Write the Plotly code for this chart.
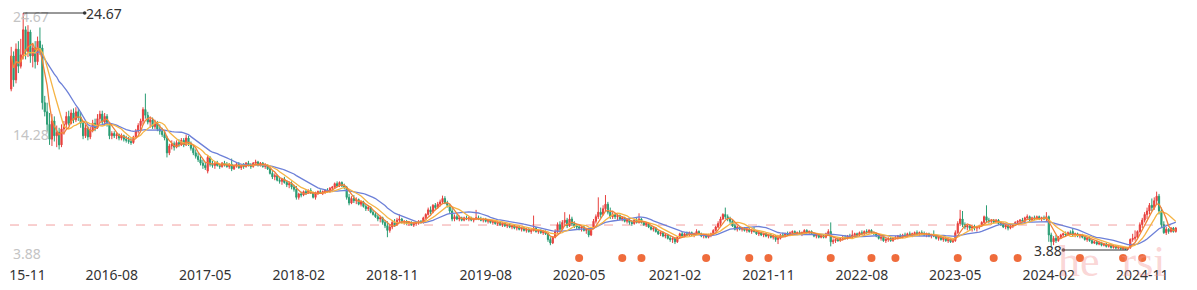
import numpy as np
import pandas as pd
import plotly.graph_objects as go

# ---------------- data (weekly candles) ----------------
start_week = "2015-10-16"

opens = [
    18.0, 20.9, 18.8, 21.5, 20.0, 21.0, 23.2, 21.3, 23.0, 20.9,
    21.6, 20.4, 22.2, 21.6, 16.8, 16.0, 14.9, 13.6, 15.2, 13.9,
    14.2, 13.1, 14.5, 14.9, 15.6, 15.0, 15.9, 15.3, 16.0, 15.5,
    15.0, 13.9, 14.6, 13.8, 14.4, 15.0, 14.6, 15.4, 15.8, 15.1,
    15.6, 14.9, 13.9, 14.1, 13.9, 14.0, 13.7, 13.9, 13.6, 13.5,
    13.4, 13.3, 13.8, 14.3, 14.8, 15.2, 16.2, 15.7, 15.1, 15.3,
    14.7, 15.0, 14.5, 14.3, 14.0, 13.7, 12.4, 13.0, 13.2, 12.9,
    13.3, 13.1, 13.5, 13.1, 13.7, 13.2, 12.8, 12.4, 12.1, 11.8,
    11.5, 11.3, 10.8, 12.0, 11.4, 11.3, 11.5, 11.3, 11.2, 11.5,
    11.4, 11.2, 11.4, 11.0, 11.3, 11.4, 11.1, 11.3, 11.2, 11.5,
    11.3, 11.2, 11.5, 11.6, 11.3, 11.5, 11.2, 11.3, 11.0, 10.6,
    10.3, 10.4, 10.0, 9.9, 10.1, 9.8, 9.6, 9.7, 9.4, 9.2,
    8.5, 8.8, 8.7, 9.0, 8.9, 9.1, 8.9, 8.5, 8.9, 9.0,
    8.9, 9.0, 9.1, 9.0, 9.3, 9.4, 9.7, 9.5, 9.8, 9.5,
    9.4, 8.5, 8.0, 8.4, 8.2, 8.3, 7.9, 8.1, 7.7, 7.5,
    7.6, 7.2, 7.0, 6.8, 6.6, 6.7, 6.3, 6.0, 5.6, 5.9,
    6.3, 6.1, 6.5, 6.6, 6.3, 6.4, 6.2, 6.3, 6.1, 6.2,
    6.3, 6.4, 6.3, 6.7, 7.0, 7.4, 7.2, 7.8, 7.6, 7.9,
    8.1, 8.4, 8.0, 7.8, 7.3, 6.6, 6.8, 6.6, 6.7, 6.5,
    6.7, 6.6, 6.7, 6.5, 6.6, 6.7, 6.6, 6.5, 6.6, 6.4,
    6.5, 6.3, 6.4, 6.2, 6.3, 6.1, 6.2, 6.0, 6.1, 5.9,
    6.0, 5.8, 5.9, 5.7, 5.8, 5.6, 5.7, 5.5, 5.6, 5.8,
    5.5, 5.6, 5.4, 5.5, 5.3, 4.8, 4.5, 5.0, 5.5, 6.1,
    5.7, 6.3, 6.5, 6.0, 6.6, 6.2, 6.0, 5.9, 5.8, 5.9,
    5.6, 5.7, 5.2, 5.8, 6.4, 6.8, 7.2, 7.0, 7.5, 7.9,
    7.2, 6.8, 7.0, 6.8, 6.9, 6.6, 6.7, 6.4, 6.5, 6.3,
    6.2, 6.5, 6.3, 6.6, 6.3, 6.1, 6.2, 5.9, 5.7, 5.8,
    5.5, 5.3, 5.4, 5.1, 5.2, 4.9, 4.8, 4.9, 4.6, 5.0,
    5.3, 5.1, 5.3, 5.2, 5.4, 5.2, 5.3, 5.5, 5.3, 5.1,
    5.2, 5.0, 5.2, 5.3, 5.6, 5.9, 6.2, 6.6, 7.0, 6.8,
    6.6, 6.4, 6.0, 5.7, 5.9, 5.7, 5.8, 5.6, 5.7, 5.5,
    5.6, 5.5, 5.3, 5.4, 5.2, 5.3, 5.1, 5.2, 5.0, 5.1,
    4.8, 4.9, 5.2, 5.1, 5.3, 5.2, 5.4, 5.5, 5.3, 5.4,
    5.3, 5.4, 5.6, 5.4, 5.5, 5.3, 5.1, 5.2, 5.0, 5.1,
    5.0, 5.3, 5.5, 4.6, 4.7, 4.8, 4.7, 4.9, 5.0, 4.9,
    5.1, 5.0, 5.2, 5.3, 5.2, 5.4, 5.3, 5.5, 5.4, 5.6,
    5.4, 5.3, 5.1, 4.9, 5.0, 4.7, 4.8, 4.9, 4.7, 4.9,
    5.0, 5.1, 5.0, 5.2, 5.1, 5.3, 5.2, 5.3, 5.4, 5.3,
    5.4, 5.3, 5.2, 5.3, 5.1, 5.2, 5.1, 4.9, 5.0, 4.8,
    4.9, 4.7, 4.8, 4.6, 4.7, 5.4, 6.2, 6.6, 6.1, 5.9,
    6.0, 5.8, 5.9, 5.8, 5.9, 6.0, 6.3, 6.8, 6.5, 6.4,
    6.5, 6.3, 6.5, 6.2, 6.1, 5.9, 6.0, 5.8, 6.0, 6.1,
    6.3, 6.4, 6.5, 6.4, 6.7, 6.8, 6.5, 6.7, 6.6, 6.8,
    6.6, 6.7, 6.6, 6.8, 5.2, 4.6, 4.9, 4.7, 5.0, 5.2,
    5.3, 5.2, 5.4, 5.5, 5.2, 5.3, 5.1, 5.2, 5.0, 4.8,
    4.9, 4.7, 4.5, 4.6, 4.4, 4.5, 4.3, 4.4, 4.2, 4.3,
    4.1, 4.2, 4.05, 4.1, 4.0, 4.05, 3.95, 4.05, 4.8, 4.9,
    5.0, 5.5, 6.1, 6.5, 7.0, 7.3, 7.8, 7.6, 8.2, 8.6,
    7.3, 6.1, 5.4, 5.7, 5.5, 5.8, 5.5,
]

highs = [
    21.7, 21.3, 22.0, 22.2, 22.4, 24.67, 23.5, 23.6, 23.2, 22.0,
    22.2, 22.6, 23.4, 21.9, 17.4, 16.8, 15.9, 15.8, 15.6, 14.8,
    14.6, 14.9, 15.2, 16.0, 16.1, 16.2, 16.3, 16.4, 16.3, 16.0,
    15.2, 14.9, 14.8, 14.7, 15.3, 15.4, 15.8, 16.1, 16.1, 15.9,
    15.8, 15.0, 14.3, 14.3, 14.2, 14.1, 14.1, 14.0, 13.9, 13.8,
    13.7, 13.9, 14.5, 15.0, 15.4, 16.4, 17.6, 16.0, 15.6, 15.5,
    15.3, 15.2, 14.9, 14.6, 14.4, 13.9, 13.2, 13.5, 13.4, 13.5,
    13.6, 13.7, 13.7, 14.0, 13.9, 13.4, 13.0, 12.7, 12.4, 12.1,
    11.8, 11.6, 12.2, 12.1, 11.7, 11.6, 11.7, 11.5, 11.6, 11.7,
    11.6, 11.5, 11.9, 11.4, 11.6, 11.6, 11.4, 11.5, 11.6, 11.7,
    11.5, 11.6, 11.8, 11.7, 11.6, 11.6, 11.5, 11.4, 11.1, 10.8,
    10.6, 10.5, 10.3, 10.2, 10.3, 10.0, 9.9, 9.9, 9.6, 9.5,
    8.9, 9.0, 9.1, 9.2, 9.2, 9.3, 9.0, 9.0, 9.1, 9.2,
    9.1, 9.2, 9.3, 9.4, 9.5, 9.8, 9.9, 9.9, 9.9, 9.7,
    9.5, 8.8, 8.6, 8.7, 8.5, 8.4, 8.2, 8.2, 7.9, 7.8,
    7.7, 7.4, 7.2, 7.0, 6.9, 6.8, 6.5, 6.4, 6.1, 6.5,
    6.6, 6.7, 7.0, 6.7, 6.5, 6.5, 6.4, 6.4, 6.3, 6.4,
    6.5, 6.5, 6.8, 7.1, 7.6, 7.7, 7.9, 8.0, 8.1, 8.3,
    8.65, 8.6, 8.2, 7.9, 7.6, 7.0, 7.0, 6.9, 6.8, 6.8,
    6.9, 6.8, 6.8, 6.7, 7.4, 6.9, 6.8, 6.7, 6.7, 6.6,
    6.6, 6.5, 6.5, 6.4, 6.4, 6.3, 6.3, 6.2, 6.2, 6.1,
    6.1, 6.0, 6.0, 5.9, 5.9, 5.8, 5.8, 5.7, 6.9, 5.9,
    5.7, 5.7, 5.6, 5.6, 5.4, 5.0, 5.1, 5.7, 6.3, 6.4,
    6.5, 7.2, 6.7, 7.0, 6.8, 6.4, 6.2, 6.1, 6.0, 6.0,
    5.8, 5.8, 5.9, 6.6, 7.0, 8.5, 7.6, 7.8, 8.7, 8.1,
    7.6, 7.2, 7.1, 7.0, 7.0, 6.8, 6.8, 6.6, 6.6, 6.5,
    6.6, 6.7, 7.1, 6.7, 6.4, 6.3, 6.3, 6.0, 5.9, 5.9,
    5.6, 5.5, 5.5, 5.3, 5.3, 5.1, 5.0, 5.0, 5.1, 5.4,
    5.5, 5.4, 5.5, 5.5, 5.5, 5.4, 5.7, 5.6, 5.4, 5.3,
    5.3, 5.3, 5.4, 5.7, 6.0, 6.4, 6.8, 7.1, 7.6, 7.0,
    6.8, 6.5, 6.2, 6.0, 6.0, 5.9, 5.9, 5.8, 5.8, 5.7,
    5.9, 5.6, 5.5, 5.5, 5.4, 5.4, 5.3, 5.3, 5.2, 5.2,
    5.1, 5.3, 5.4, 5.4, 5.5, 5.5, 5.6, 5.6, 5.5, 5.6,
    5.5, 5.7, 5.7, 5.6, 5.6, 5.4, 5.3, 5.3, 5.2, 5.2,
    5.4, 5.7, 6.3, 4.9, 4.9, 5.0, 5.0, 5.1, 5.2, 5.2,
    5.3, 5.6, 5.4, 5.4, 5.5, 5.6, 5.6, 5.7, 5.7, 5.7,
    5.5, 5.4, 5.2, 5.1, 5.1, 4.9, 5.0, 5.0, 5.0, 5.1,
    5.2, 5.3, 5.3, 5.4, 5.4, 5.5, 5.4, 5.5, 5.6, 5.5,
    5.6, 5.5, 5.4, 5.4, 5.3, 5.6, 5.2, 5.1, 5.1, 5.0,
    5.0, 4.9, 4.9, 4.8, 5.6, 6.4, 7.4, 7.3, 6.3, 6.1,
    6.1, 6.0, 6.1, 6.0, 6.1, 6.4, 6.9, 7.8, 6.7, 6.6,
    6.6, 6.6, 6.6, 6.4, 6.3, 6.1, 6.1, 6.1, 6.2, 6.4,
    6.5, 6.6, 6.7, 6.8, 7.0, 6.9, 6.8, 6.9, 6.9, 6.9,
    6.8, 6.9, 7.2, 6.9, 5.4, 5.1, 5.2, 5.1, 5.3, 5.4,
    5.5, 5.5, 5.6, 5.8, 5.4, 5.4, 5.3, 5.3, 5.1, 5.0,
    5.0, 4.8, 4.7, 4.7, 4.6, 4.6, 4.5, 4.5, 4.4, 4.4,
    4.3, 4.3, 4.2, 4.2, 4.15, 4.1, 4.1, 4.9, 5.3, 5.6,
    5.6, 6.3, 6.7, 7.2, 7.6, 8.0, 8.4, 8.5, 9.0, 8.8,
    7.6, 6.4, 5.9, 5.8, 5.9, 5.9, 5.9,
]

lows = [
    17.8, 18.2, 18.5, 19.4, 19.8, 20.6, 20.6, 20.8, 20.3, 19.9,
    19.8, 20.1, 21.0, 16.2, 15.6, 14.2, 13.1, 13.0, 13.4, 12.9,
    12.7, 12.9, 14.0, 14.5, 14.8, 14.9, 15.0, 15.1, 15.2, 14.6,
    13.6, 13.7, 13.5, 13.6, 14.2, 14.3, 14.5, 15.0, 14.9, 14.8,
    14.7, 13.6, 13.6, 13.7, 13.6, 13.5, 13.5, 13.4, 13.3, 13.2,
    13.1, 13.2, 13.7, 14.1, 14.4, 14.9, 15.4, 14.9, 14.6, 14.5,
    14.5, 14.3, 14.0, 13.8, 13.5, 12.0, 12.2, 12.7, 12.6, 12.8,
    12.9, 13.0, 12.9, 13.0, 13.0, 12.6, 12.2, 11.9, 11.6, 11.3,
    11.0, 10.9, 10.6, 11.2, 11.1, 11.0, 11.2, 11.0, 11.1, 11.2,
    11.1, 11.0, 10.8, 10.9, 11.1, 11.0, 10.9, 11.0, 11.1, 11.2,
    11.0, 11.1, 11.3, 11.2, 11.2, 11.1, 11.0, 10.9, 10.5, 10.1,
    10.0, 9.9, 9.7, 9.6, 9.7, 9.4, 9.3, 9.2, 9.0, 8.3,
    8.3, 8.5, 8.6, 8.7, 8.8, 8.8, 8.4, 8.3, 8.7, 8.8,
    8.7, 8.8, 8.9, 8.9, 9.1, 9.3, 9.4, 9.4, 9.4, 9.2,
    8.3, 7.8, 7.9, 8.0, 7.9, 7.8, 7.7, 7.6, 7.3, 7.3,
    7.1, 6.9, 6.7, 6.4, 6.3, 6.1, 5.8, 5.0, 5.4, 5.7,
    5.9, 6.0, 6.3, 6.2, 6.1, 6.1, 6.0, 6.0, 5.9, 6.0,
    6.1, 6.2, 6.2, 6.6, 6.9, 7.0, 7.1, 7.4, 7.5, 7.7,
    7.9, 7.9, 7.6, 7.1, 6.4, 6.4, 6.5, 6.4, 6.4, 6.4,
    6.5, 6.4, 6.4, 6.3, 6.5, 6.5, 6.4, 6.3, 6.3, 6.2,
    6.2, 6.1, 6.1, 6.0, 6.0, 5.9, 5.9, 5.8, 5.8, 5.7,
    5.7, 5.6, 5.6, 5.5, 5.5, 5.4, 5.4, 5.3, 5.5, 5.4,
    5.3, 5.3, 5.2, 5.2, 4.6, 4.3, 4.4, 4.9, 5.3, 5.5,
    5.6, 6.0, 5.8, 5.9, 6.0, 5.8, 5.7, 5.6, 5.5, 5.5,
    5.3, 5.0, 5.1, 5.7, 6.2, 6.6, 6.7, 6.9, 7.3, 7.0,
    6.6, 6.6, 6.6, 6.5, 6.5, 6.4, 6.3, 6.2, 6.1, 6.0,
    6.1, 6.2, 6.2, 6.2, 6.0, 5.9, 5.8, 5.6, 5.5, 5.4,
    5.2, 5.1, 5.0, 4.9, 4.8, 4.6, 4.5, 4.4, 4.5, 4.9,
    5.0, 5.0, 5.1, 5.1, 5.1, 5.0, 5.2, 5.2, 5.0, 4.9,
    4.9, 4.9, 5.0, 5.2, 5.5, 5.8, 6.0, 6.5, 6.6, 6.4,
    6.2, 5.9, 5.6, 5.5, 5.6, 5.5, 5.5, 5.4, 5.4, 5.3,
    5.4, 5.2, 5.1, 5.1, 5.0, 5.0, 4.9, 4.9, 4.8, 4.6,
    4.4, 4.8, 5.0, 5.0, 5.1, 5.1, 5.2, 5.2, 5.2, 5.2,
    5.1, 5.3, 5.3, 5.2, 5.2, 5.0, 4.9, 4.9, 4.9, 4.9,
    4.9, 5.1, 4.2, 4.4, 4.5, 4.6, 4.6, 4.7, 4.8, 4.8,
    4.9, 4.9, 5.0, 5.1, 5.1, 5.2, 5.2, 5.3, 5.3, 5.3,
    5.2, 5.0, 4.8, 4.7, 4.6, 4.5, 4.6, 4.6, 4.6, 4.8,
    4.8, 4.9, 4.9, 5.0, 5.0, 5.1, 5.0, 5.1, 5.2, 5.1,
    5.2, 5.1, 5.0, 5.0, 4.9, 5.0, 4.8, 4.7, 4.7, 4.6,
    4.6, 4.5, 4.5, 4.5, 4.6, 5.3, 6.0, 5.9, 5.7, 5.6,
    5.6, 5.5, 5.6, 5.5, 5.7, 5.9, 6.2, 6.3, 6.2, 6.1,
    6.2, 6.2, 6.1, 6.0, 5.8, 5.7, 5.6, 5.7, 5.8, 6.0,
    6.1, 6.2, 6.3, 6.3, 6.5, 6.4, 6.4, 6.5, 6.5, 6.5,
    6.4, 6.5, 6.4, 4.6, 4.2, 4.3, 4.5, 4.6, 4.9, 5.0,
    5.1, 5.1, 5.2, 5.1, 5.0, 5.0, 4.9, 4.9, 4.7, 4.6,
    4.6, 4.4, 4.4, 4.3, 4.3, 4.2, 4.2, 4.1, 4.1, 4.0,
    4.0, 3.95, 3.95, 3.92, 3.9, 3.9, 3.88, 4.0, 4.6, 4.7,
    4.9, 5.4, 5.8, 6.3, 6.6, 7.0, 7.3, 7.4, 7.9, 7.0,
    5.9, 5.3, 5.2, 5.3, 5.4, 5.4, 5.4,
]

closes = [
    20.9, 18.8, 21.5, 20.0, 21.0, 23.2, 21.3, 23.0, 20.9, 21.6,
    20.4, 22.2, 21.6, 16.8, 16.0, 14.9, 13.6, 15.2, 13.9, 14.2,
    13.1, 14.5, 14.9, 15.6, 15.0, 15.9, 15.3, 16.0, 15.5, 15.0,
    13.9, 14.6, 13.8, 14.4, 15.0, 14.6, 15.4, 15.8, 15.1, 15.6,
    14.9, 13.9, 14.1, 13.9, 14.0, 13.7, 13.9, 13.6, 13.5, 13.4,
    13.3, 13.8, 14.3, 14.8, 15.2, 16.2, 15.7, 15.1, 15.3, 14.7,
    15.0, 14.5, 14.3, 14.0, 13.7, 12.4, 13.0, 13.2, 12.9, 13.3,
    13.1, 13.5, 13.1, 13.7, 13.2, 12.8, 12.4, 12.1, 11.8, 11.5,
    11.3, 11.1, 12.0, 11.4, 11.3, 11.5, 11.3, 11.2, 11.5, 11.4,
    11.2, 11.4, 11.0, 11.3, 11.4, 11.1, 11.3, 11.2, 11.5, 11.3,
    11.2, 11.5, 11.6, 11.3, 11.5, 11.2, 11.3, 11.0, 10.6, 10.3,
    10.4, 10.0, 9.9, 10.1, 9.8, 9.6, 9.7, 9.4, 9.2, 8.5,
    8.8, 8.7, 9.0, 8.9, 9.1, 8.9, 8.5, 8.9, 9.0, 8.9,
    9.0, 9.1, 9.0, 9.3, 9.4, 9.7, 9.5, 9.8, 9.5, 9.4,
    8.5, 8.0, 8.4, 8.2, 8.3, 7.9, 8.1, 7.7, 7.5, 7.6,
    7.2, 7.0, 6.8, 6.6, 6.7, 6.3, 6.0, 5.6, 5.9, 6.3,
    6.1, 6.5, 6.6, 6.3, 6.4, 6.2, 6.3, 6.1, 6.2, 6.3,
    6.4, 6.3, 6.7, 7.0, 7.4, 7.2, 7.8, 7.6, 7.9, 8.1,
    8.4, 8.0, 7.8, 7.3, 6.6, 6.8, 6.6, 6.7, 6.5, 6.7,
    6.6, 6.7, 6.5, 6.6, 6.7, 6.6, 6.5, 6.6, 6.4, 6.5,
    6.3, 6.4, 6.2, 6.3, 6.1, 6.2, 6.0, 6.1, 5.9, 6.0,
    5.8, 5.9, 5.7, 5.8, 5.6, 5.7, 5.5, 5.6, 5.8, 5.5,
    5.6, 5.4, 5.5, 5.3, 4.8, 4.5, 5.0, 5.5, 6.1, 5.7,
    6.3, 6.5, 6.0, 6.6, 6.2, 6.0, 5.9, 5.8, 5.9, 5.6,
    5.7, 5.2, 5.8, 6.4, 6.8, 7.2, 7.0, 7.5, 7.9, 7.2,
    6.8, 7.0, 6.8, 6.9, 6.6, 6.7, 6.4, 6.5, 6.3, 6.2,
    6.5, 6.3, 6.6, 6.3, 6.1, 6.2, 5.9, 5.7, 5.8, 5.5,
    5.3, 5.4, 5.1, 5.2, 4.9, 4.8, 4.9, 4.6, 5.0, 5.3,
    5.1, 5.3, 5.2, 5.4, 5.2, 5.3, 5.5, 5.3, 5.1, 5.2,
    5.0, 5.2, 5.3, 5.6, 5.9, 6.2, 6.6, 7.0, 6.8, 6.6,
    6.4, 6.0, 5.7, 5.9, 5.7, 5.8, 5.6, 5.7, 5.5, 5.6,
    5.5, 5.3, 5.4, 5.2, 5.3, 5.1, 5.2, 5.0, 5.1, 4.8,
    4.9, 5.2, 5.1, 5.3, 5.2, 5.4, 5.5, 5.3, 5.4, 5.3,
    5.4, 5.6, 5.4, 5.5, 5.3, 5.1, 5.2, 5.0, 5.1, 5.0,
    5.3, 5.5, 4.6, 4.7, 4.8, 4.7, 4.9, 5.0, 4.9, 5.1,
    5.0, 5.2, 5.3, 5.2, 5.4, 5.3, 5.5, 5.4, 5.6, 5.4,
    5.3, 5.1, 4.9, 5.0, 4.7, 4.8, 4.9, 4.7, 4.9, 5.0,
    5.1, 5.0, 5.2, 5.1, 5.3, 5.2, 5.3, 5.4, 5.3, 5.4,
    5.3, 5.2, 5.3, 5.1, 5.2, 5.1, 4.9, 5.0, 4.8, 4.9,
    4.7, 4.8, 4.6, 4.7, 5.4, 6.2, 6.6, 6.1, 5.9, 6.0,
    5.8, 5.9, 5.8, 5.9, 6.0, 6.3, 6.8, 6.5, 6.4, 6.5,
    6.3, 6.5, 6.2, 6.1, 5.9, 6.0, 5.8, 6.0, 6.1, 6.3,
    6.4, 6.5, 6.4, 6.7, 6.8, 6.5, 6.7, 6.6, 6.8, 6.6,
    6.7, 6.6, 6.8, 5.2, 4.6, 4.9, 4.7, 5.0, 5.2, 5.3,
    5.2, 5.4, 5.3, 5.2, 5.3, 5.1, 5.2, 5.0, 4.8, 4.9,
    4.7, 4.5, 4.6, 4.4, 4.5, 4.3, 4.4, 4.2, 4.3, 4.1,
    4.2, 4.05, 4.1, 4.0, 4.05, 3.95, 4.05, 4.8, 4.9, 5.0,
    5.5, 6.1, 6.5, 7.0, 7.3, 7.8, 7.6, 8.2, 8.6, 7.3,
    6.1, 5.4, 5.7, 5.5, 5.8, 5.5, 5.8,
]

x_tick_dates = ["2015-11-06", "2016-08-05", "2017-05-05", "2018-02-02", "2018-11-02",
                "2019-08-02", "2020-05-01", "2021-02-05", "2021-11-05", "2022-08-05",
                "2023-05-05", "2024-02-02", "2024-11-01"]
x_tick_labels = ["15-11", "2016-08", "2017-05", "2018-02", "2018-11", "2019-08",
                 "2020-05", "2021-02", "2021-11", "2022-08", "2023-05", "2024-02", "2024-11"]
y_tick_vals = [3.88, 14.28, 24.67]
y_tick_labels = ["3.88", "14.28", "24.67"]
ref_price = 6.07
event_week_idx = [237, 255, 263, 290, 308, 316, 342, 359, 369, 395, 410, 420, 446, 464, 472]
watermark_text = "he\u00a0\u00a0rsi"

# ---------------- build ----------------
n = len(closes)
assert len(opens) == n and len(highs) == n and len(lows) == n, (len(opens), len(highs), len(lows), n)

dates = pd.date_range(start_week, periods=n, freq="7D")
cs = pd.Series(closes)
ma5 = cs.rolling(5, min_periods=1).mean()
ma10 = cs.rolling(10, min_periods=3).mean()
ma20 = cs.rolling(20, min_periods=10).mean()

RED = "#e8413e"
GREEN = "#2a9d74"
FONT = "Noto Sans"

fig = go.Figure()
fig.add_trace(go.Candlestick(
    x=dates, open=opens, high=highs, low=lows, close=closes,
    increasing=dict(line=dict(color=RED, width=1), fillcolor=RED),
    decreasing=dict(line=dict(color=GREEN, width=1), fillcolor=GREEN),
    whiskerwidth=0, hoverinfo="skip", showlegend=False,
))
for ma, col in [(ma20, "#6d80d8"), (ma10, "#f5b445"), (ma5, "#f0833a")]:
    fig.add_trace(go.Scatter(x=dates, y=ma, mode="lines",
                             line=dict(color=col, width=1.3),
                             hoverinfo="skip", showlegend=False))

ev_dates = dates[event_week_idx]
fig.add_trace(go.Scatter(x=ev_dates, y=[3.18] * len(ev_dates), mode="markers",
                         marker=dict(size=8, color="#ef6c3c"),
                         hoverinfo="skip", showlegend=False))

fig.add_shape(type="line", xref="paper", x0=0, x1=1, yref="y", y0=ref_price, y1=ref_price,
              line=dict(color="#f2a0a0", width=1, dash="dash"), layer="below")

imax = int(np.argmax(highs))
imin = int(np.argmin(lows))
for idx, val, ax in [(imax, highs[imax], 81), (imin, lows[imin], -80)]:
    fig.add_annotation(x=dates[idx], y=val, text=f"{val:.2f}", showarrow=True,
                       ax=ax, ay=0, arrowcolor="#333333", arrowwidth=1,
                       arrowside="start", startarrowhead=6, startarrowsize=0.9,
                       font=dict(family=FONT, size=14, color="#333333"))

fig.add_annotation(xref="paper", yref="paper", x=0.944, y=0.015,
                   xanchor="center", yanchor="middle",
                   text=watermark_text, showarrow=False,
                   font=dict(family="Liberation Serif", size=44, color="rgba(244,150,150,0.40)"))

half = pd.Timedelta(days=3.5)
ticktext = ["\u00a0" * 5 + x_tick_labels[0]] + x_tick_labels[1:]
fig.update_layout(
    width=1197, height=290,
    margin=dict(l=10, r=20, t=0, b=25, autoexpand=False),
    paper_bgcolor="white", plot_bgcolor="white",
    font=dict(family=FONT),
    xaxis=dict(type="date", range=[dates[0] - half, dates[-1] + half],
               tickmode="array", tickvals=pd.to_datetime(x_tick_dates), ticktext=ticktext,
               ticklabeloverflow="allow", automargin=False,
               showgrid=False, zeroline=False, showline=False, ticks="",
               tickfont=dict(size=14, color="#333333"),
               rangeslider=dict(visible=False)),
    yaxis=dict(range=[2.564, 25.81], tickmode="array", tickvals=y_tick_vals,
               ticktext=y_tick_labels, ticklabelposition="inside", ticks="",
               ticklabelshift=4, ticklabeloverflow="allow", automargin=False,
               showgrid=False, zeroline=False, showline=False,
               tickfont=dict(size=14, color="#c4c4c4")),
    hovermode=False,
)

fig.write_html("out.html")
